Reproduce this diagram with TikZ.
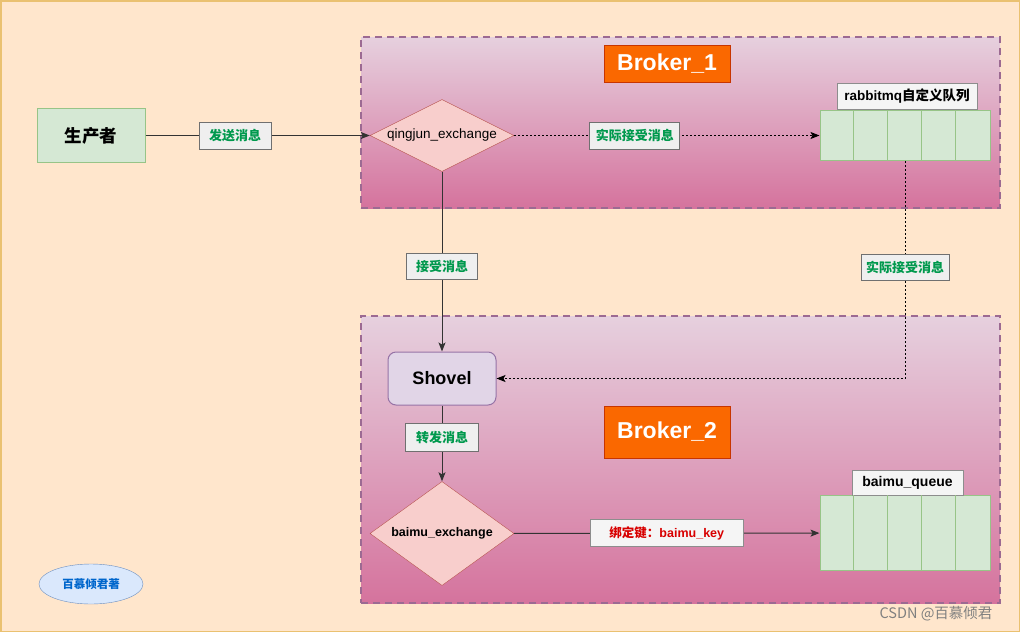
\documentclass[tikz,border=0pt]{standalone}
\usepackage{fontspec}
\setmainfont{Liberation Sans}
\newfontfamily\cjk{Noto Sans CJK SC}
\usetikzlibrary{shapes.geometric,arrows.meta}
\definecolor{bgfill}{HTML}{FFE6CC}
\definecolor{bgline}{HTML}{EAC171}
\definecolor{brokerline}{HTML}{9C6A92}
\definecolor{brokertop}{HTML}{E6D0DE}
\definecolor{brokerbot}{HTML}{D5739D}
\definecolor{tagfill}{HTML}{FA6800}
\definecolor{tagline}{HTML}{C73500}
\definecolor{greenfill}{HTML}{D5E8D4}
\definecolor{greenline}{HTML}{97C487}
\definecolor{xfill}{HTML}{F8CECC}
\definecolor{xline}{HTML}{B85450}
\definecolor{shovfill}{HTML}{E1D5E7}
\definecolor{shovline}{HTML}{9673A6}
\definecolor{lblfill}{HTML}{EFEFEF}
\definecolor{lblline}{HTML}{707070}
\definecolor{lbltext}{HTML}{00994D}
\definecolor{keytext}{HTML}{D80000}
\definecolor{ellfill}{HTML}{DAE8FC}
\definecolor{ellline}{HTML}{6C8EBF}
\definecolor{elltext}{HTML}{0066CC}
\definecolor{arrowline}{HTML}{333333}
\tikzset{broker/.style={draw=brokerline,line width=2.5pt,dash pattern=on 7pt off 5pt,top color=brokertop,bottom color=brokerbot,minimum width=639pt,inner sep=0}}
\tikzset{tag/.style={fill=tagfill,draw=tagline,text=white,font=\bfseries\fontsize{23}{23}\selectfont,minimum width=126pt,inner sep=0}}
\tikzset{xchg/.style={diamond,aspect=2,draw=xline,fill=xfill,minimum width=144pt,inner sep=0}}
\tikzset{queue/.style={draw=greenline,line width=1pt,fill=greenfill,minimum width=170pt,inner sep=0}}
\tikzset{qname/.style={draw=lblline!80,line width=1pt,fill=white!96!black,font=\bfseries\fontsize{13.5}{13.5}\selectfont,minimum height=26pt,inner sep=0}}
\tikzset{lbl/.style={solid,fill=lblfill,draw=lblline,line width=1pt,text=lbltext,font=\cjk\bfseries\fontsize{13}{13}\selectfont,minimum height=27pt,inner sep=0}}
\tikzset{flow/.style={draw=arrowline,line width=1pt}}
\tikzset{dots/.style={draw=black,line width=1pt,dash pattern=on 2pt off 2pt}}

\begin{document}
\begin{tikzpicture}[x=1pt,y=-1pt,>={Stealth[length=9pt,width=7pt,inset=2pt]}]
    \useasboundingbox (0,0) rectangle (1020,632);
    \draw[fill=bgfill,draw=bgline,line width=1.5pt] (0.75,0.75) rectangle (1019.25,631.25);

    % brokers
    \node[broker,minimum height=171pt] (b1) at (680.5,122.5) {};
    \node[broker,minimum height=287pt] (b2) at (680.5,459.5) {};
    \node[tag,minimum height=37pt] (t1) at (667,63.5) {Broker\_1};
    \node[tag,minimum height=52pt] (t2) at (667,432) {Broker\_2};

    \node[draw=greenline,line width=1pt,fill=greenfill,minimum width=108pt,minimum height=54pt,font=\cjk\bfseries\fontsize{17.5}{17.5}\selectfont] (prod) at (91,135.5) {生产者};
    \node[xchg,minimum height=72pt,font=\fontsize{13.5}{13.5}\selectfont] (ex1) at (442,135.5) {qingjun\_exchange};
    \node[queue,minimum height=50pt] (q1) at (905,135.5) {};
    \node[qname,minimum width=140pt] (q1n) at (907,96.5) {rabbitmq{\cjk 自定义队列}};
    \node[draw=shovline,line width=1pt,fill=shovfill,rounded corners=8pt,minimum width=108pt,minimum height=53pt,font=\bfseries\fontsize{18}{18}\selectfont] (shov) at (442,378.5) {Shovel};
    \node[xchg,minimum height=104pt,font=\bfseries\fontsize{12.5}{12.5}\selectfont] (ex2) at (442,533.5) {baimu\_exchange};
    \node[queue,minimum height=75pt] (q2) at (905,533) {};
    \node[qname,minimum width=111pt,minimum height=25pt,font=\bfseries\fontsize{14}{14}\selectfont] (q2n) at (907.5,482.5) {baimu\_queue};
    \node[ellipse,draw=ellline,fill=ellfill,minimum width=104pt,minimum height=40pt,inner sep=0,text=elltext,font=\cjk\bfseries\fontsize{11.5}{11.5}\selectfont] (auth) at (91,584) {百慕倾君著};
    \node[text=black!50,font=\cjk\fontsize{14.5}{14.5}\selectfont] (mark) at (936,614) {CSDN @百慕倾君};

    \foreach \i in {1,...,4} {
        \draw[greenline,line width=1pt] ([xshift=\i*34pt]q1.north west) -- ([xshift=\i*34pt]q1.south west);
        \draw[greenline,line width=1pt] ([xshift=\i*34pt]q2.north west) -- ([xshift=\i*34pt]q2.south west);
    }

    \draw [flow,->] (prod) to node[lbl,pos=0.4,minimum width=72pt]{发送消息} (ex1);
    \draw [dots,->] (ex1) to node[lbl,pos=0.395,minimum width=90pt]{实际接受消息} (q1);
    \draw [flow,->] (ex1) to node[lbl,pos=0.53,minimum width=71pt,minimum height=26pt]{接受消息} (shov);
    \draw [dots,->] (q1.south) |- node[lbl,pos=0.245,minimum width=88pt,minimum height=26pt]{实际接受消息} (shov.east);
    \draw [flow,->] (shov) to node[lbl,pos=0.42,minimum width=73pt,minimum height=28pt]{转发消息} (ex2);
    \draw [flow,->] (ex2) to node[lbl,fill=white!96!black,draw=lblline!80,text=keytext,minimum width=153pt,font=\bfseries\fontsize{12.5}{12.5}\selectfont]{{\cjk 绑定键：}baimu\_key} (q2);
\end{tikzpicture}
\end{document}
